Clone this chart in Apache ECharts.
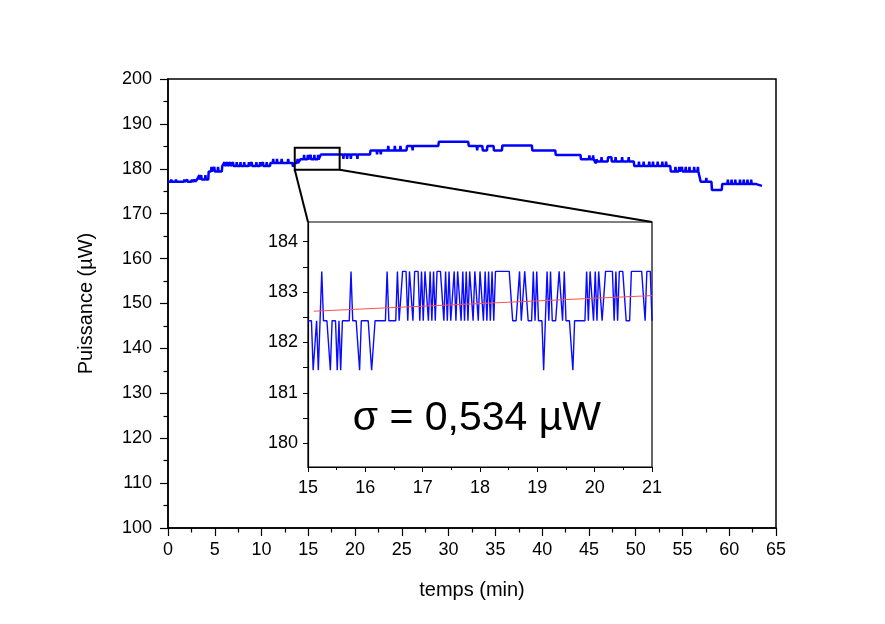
<!DOCTYPE html>
<html><head><meta charset="utf-8">
<script src="https://cdn.jsdelivr.net/npm/echarts@6/dist/echarts.min.js"></script>
<style>html,body{margin:0;padding:0;background:#fff}#c{width:885px;height:624px}</style>
</head><body><div id="c"></div>
<script>
// ---- main series: [time (min), power (µW)] vertices ----
const mainReadings = [[0,177.1],[0.3,177.1],[0.35,177.6],[0.4,177.1],[0.8,177.1],[0.85,177.6],[0.9,177.1],[1.7,177.1],[1.75,177.6],[1.8,177.1],[2.0,177.1],[2.05,177.6],[2.1,177.1],[2.5,177.1],[2.55,177.6],[2.6,177.1],[2.8,177.1],[2.85,177.6],[2.9,177.1],[3.05,177.1],[3.1,177.6],[3.3,177.6],[3.35,178.6],[3.4,177.6],[3.5,177.6],[3.55,178.6],[3.6,177.6],[3.95,177.6],[4.0,178.6],[4.05,177.6],[4.3,177.6],[4.35,179.4],[4.6,179.4],[4.65,180.4],[4.7,179.4],[4.9,179.4],[4.95,180.4],[5.0,179.4],[5.3,179.4],[5.35,180.4],[5.4,179.4],[5.75,179.4],[5.8,180.6],[6.0,180.6],[6.05,181.5],[6.1,180.6],[6.3,180.6],[6.35,181.5],[6.4,180.6],[6.6,180.6],[6.65,181.5],[6.7,180.6],[6.9,180.6],[6.95,181.5],[7.0,180.6],[7.3,180.6],[7.35,181.5],[7.4,180.6],[7.7,180.6],[7.75,181.5],[7.8,180.6],[8.1,180.6],[8.15,181.5],[8.2,180.6],[8.6,180.6],[8.65,181.5],[8.7,180.6],[8.9,180.6],[8.95,181.5],[9.0,180.6],[9.4,180.6],[9.45,181.5],[9.5,180.6],[9.8,180.6],[9.85,181.5],[9.9,180.6],[10.1,180.6],[10.15,181.5],[10.2,180.6],[10.5,180.6],[10.55,181.5],[10.6,180.6],[10.9,180.6],[10.95,181.3],[11.2,181.3],[11.25,182.2],[11.3,181.3],[11.6,181.3],[11.65,182.2],[11.7,181.3],[12.1,181.3],[12.15,182.2],[12.2,181.3],[12.8,181.3],[12.85,182.2],[12.9,181.3],[13.3,181.3],[13.35,180.5],[13.5,180.5],[13.55,181.3],[13.8,181.3],[13.85,182.2],[13.9,181.3],[14.1,181.3],[14.15,182.1],[14.5,182.1],[14.55,183.1],[14.6,182.1],[14.9,182.1],[14.95,183.1],[15.0,182.1],[15.2,182.1],[15.25,183.1],[15.3,182.1],[15.6,182.1],[15.65,183.1],[15.7,182.1],[16.0,182.1],[16.05,183.1],[16.1,182.1],[16.3,182.1],[16.35,183.2],[18.7,183.2],[18.75,182.2],[18.8,183.2],[19.1,183.2],[19.15,182.2],[19.2,183.2],[19.5,183.2],[19.55,182.2],[19.6,183.2],[20.2,183.2],[20.25,182.2],[20.3,183.2],[21.6,183.2],[21.65,184.1],[22.3,184.1],[22.35,183.2],[22.4,184.1],[22.7,184.1],[22.75,183.2],[22.8,184.1],[23.5,184.1],[23.55,185.1],[23.6,184.1],[24.2,184.1],[24.25,185.1],[24.3,184.1],[24.8,184.1],[24.85,185.1],[24.9,184.1],[25.5,184.1],[25.55,185.1],[26.1,185.1],[26.15,184.1],[26.2,185.1],[28.9,185.1],[28.95,186.0],[32.1,186.0],[32.15,185.1],[33.0,185.1],[33.05,184.1],[33.1,185.1],[33.6,185.1],[33.65,184.1],[34.1,184.1],[34.15,185.1],[34.8,185.1],[34.85,184.1],[35.7,184.1],[35.75,185.2],[38.9,185.2],[38.95,184.1],[41.4,184.1],[41.45,183.1],[44.1,183.1],[44.15,182.1],[45.0,182.1],[45.05,183.0],[45.1,182.1],[45.4,182.1],[45.45,183.0],[45.5,182.1],[45.7,182.1],[45.75,181.2],[45.8,182.1],[45.9,182.1],[45.95,181.6],[46.3,181.6],[46.35,182.6],[46.4,181.6],[47.0,181.6],[47.05,182.6],[47.4,182.6],[47.45,181.6],[47.8,181.6],[47.85,182.6],[47.9,181.6],[48.5,181.6],[48.55,182.6],[48.6,181.6],[49.2,181.6],[49.25,182.6],[49.3,181.6],[49.8,181.6],[49.85,180.6],[50.3,180.6],[50.35,181.6],[50.4,180.6],[50.8,180.6],[50.85,181.6],[50.9,180.6],[51.4,180.6],[51.45,181.6],[51.5,180.6],[51.8,180.6],[51.85,181.6],[51.9,180.6],[52.3,180.6],[52.35,181.6],[52.4,180.6],[52.8,180.6],[52.85,181.6],[52.9,180.6],[53.2,180.6],[53.25,181.6],[53.3,180.6],[53.7,180.6],[53.75,179.4],[54.2,179.4],[54.25,180.4],[54.3,179.4],[54.6,179.4],[54.65,180.4],[54.7,179.4],[54.9,179.4],[54.95,180.4],[55.0,179.4],[55.3,179.4],[55.35,180.4],[55.4,179.4],[55.7,179.4],[55.75,180.4],[55.8,179.4],[56.2,179.4],[56.25,180.4],[56.3,179.4],[56.6,179.4],[56.65,180.4],[56.7,179.4],[56.9,179.4],[56.95,177.1],[57.5,177.1],[57.55,178.0],[57.6,177.1],[58.1,177.1],[58.15,175.3],[59.2,175.3],[59.25,176.6],[59.8,176.6],[59.85,177.6],[59.9,176.6],[60.2,176.6],[60.25,177.6],[60.3,176.6],[60.6,176.6],[60.65,177.6],[60.7,176.6],[61.1,176.6],[61.15,177.6],[61.2,176.6],[61.5,176.6],[61.55,177.6],[61.6,176.6],[61.9,176.6],[61.95,177.6],[62.0,176.6],[62.3,176.6],[62.35,177.6],[62.4,176.6],[62.9,176.6],[62.95,176.2],[63.5,176.2]];

// ---- inset series: samples from 15 to 21 min ----
const insetStart = 15;
const insetStep = 0.03;
const insetPower = [
182.43,182.43,182.43,181.45,181.45,182.43,181.45,182.43,183.41,182.43,
182.43,182.43,182.43,181.45,182.43,182.43,182.43,181.45,182.43,181.45,
182.43,182.43,182.43,182.43,182.43,183.41,182.43,182.43,182.43,182.43,
181.45,182.43,182.43,182.43,182.43,182.43,182.43,181.45,181.45,182.43,
182.43,182.43,182.43,182.43,182.43,182.43,183.41,182.43,182.43,182.43,
182.43,182.43,183.41,182.43,182.43,183.41,183.41,183.41,182.43,183.41,
183.41,182.43,183.41,183.41,183.41,182.43,183.41,182.43,183.41,183.41,
182.43,183.41,182.43,183.41,182.43,183.41,183.41,183.41,183.41,182.43,
183.41,182.43,183.41,182.43,182.43,183.41,182.43,183.41,183.41,182.43,
183.41,182.43,183.41,182.43,183.41,183.41,182.43,183.41,183.41,182.43,
183.41,183.41,182.43,183.41,182.43,183.41,182.43,183.41,182.43,183.41,
183.41,183.41,183.41,183.41,183.41,183.41,183.41,183.41,183.41,182.43,
182.43,182.43,182.43,183.41,182.43,182.43,183.41,183.41,182.43,182.43,
182.43,183.41,182.43,183.41,182.43,182.43,182.43,181.45,182.43,183.41,
182.43,183.41,182.43,182.43,182.43,182.43,183.41,183.41,182.43,183.41,
182.43,182.43,182.43,182.43,181.45,182.43,182.43,182.43,182.43,182.43,
182.43,182.43,183.41,182.43,183.41,183.41,182.43,183.41,182.43,183.41,
183.41,182.43,182.43,183.41,183.41,183.41,183.41,183.41,182.43,183.41,
182.43,183.41,183.41,183.41,183.41,182.43,182.43,182.43,183.41,183.41,
183.41,183.41,183.41,183.41,183.41,183.41,182.43,183.41,183.41,183.41,
182.43];

// linear fit in the inset
const fitTime = [15.1, 21];
const fitPower = [182.62, 182.93];

// zoom box drawn on the main plot
const zoomBoxTime = [13.55, 18.35];
const zoomBoxPower = [179.8, 184.7];

// inset axis
const insetYMin = 179.53, insetYMax = 184.39;
const insetYTicks = [180,180.5,181,181.5,182,182.5,183,183.5,184];
const insetYLabels = [180,181,182,183,184];

// sigma annotation anchor (inset data coords)
const sigmaText = 'σ = 0,534 µW';
const sigmaAnchor = [15.78, 180.48];

const FONT = '"Liberation Sans", Arial, sans-serif';
const chart = echarts.init(document.getElementById('c'), null, {renderer: 'canvas'});

const insetData = insetPower.map((v, i) => [insetStart + insetStep * i, v]);
const fitData = fitTime.map((t, i) => [t, fitPower[i]]);

const axisCommon = {
  axisLine: {show: true, onZero: false, lineStyle: {color: '#000', width: 1.5}},
  splitLine: {show: false},
  axisLabel: {color: '#000', fontFamily: FONT, fontSize: 18},
  nameTextStyle: {color: '#000', fontFamily: FONT, fontSize: 20}
};

chart.setOption({
  animation: false,
  backgroundColor: '#fff',
  grid: [
    {left: 168, top: 79, width: 608, height: 449, show: true, borderColor: '#000', borderWidth: 1.5, backgroundColor: 'rgba(0,0,0,0)', containLabel: false},
    {left: 308, top: 222, width: 344, height: 245, show: true, borderColor: '#000', borderWidth: 1.2, backgroundColor: '#fff', containLabel: false}
  ],
  xAxis: [
    Object.assign({}, axisCommon, {
      type: 'value', gridIndex: 0, min: 0, max: 65, interval: 5,
      axisTick: {show: true, inside: false, length: 8, lineStyle: {color: '#000', width: 1.2}},
      minorTick: {show: true, splitNumber: 2, length: 4.5, lineStyle: {color: '#000', width: 1.2}},
      axisLabel: Object.assign({}, axisCommon.axisLabel, {margin: 13}),
      name: 'temps (min)', nameLocation: 'middle', nameGap: 52
    }),
    Object.assign({}, axisCommon, {
      type: 'value', gridIndex: 1, min: 15, max: 21, interval: 1,
      axisLine: {show: true, onZero: false, lineStyle: {color: '#000', width: 1.2}},
      axisTick: {show: true, inside: false, length: 5, lineStyle: {color: '#000', width: 1}},
      minorTick: {show: true, splitNumber: 2, length: 3, lineStyle: {color: '#000', width: 1}},
      axisLabel: Object.assign({}, axisCommon.axisLabel, {margin: 12})
    })
  ],
  yAxis: [
    Object.assign({}, axisCommon, {
      type: 'value', gridIndex: 0, min: 100, max: 200, interval: 10,
      axisTick: {show: true, inside: false, length: 8, lineStyle: {color: '#000', width: 1.2}},
      minorTick: {show: true, splitNumber: 2, length: 4.5, lineStyle: {color: '#000', width: 1.2}},
      axisLabel: Object.assign({}, axisCommon.axisLabel, {margin: 16}),
      name: 'Puissance (µW)', nameLocation: 'middle', nameGap: 72
    }),
    Object.assign({}, axisCommon, {
      type: 'value', gridIndex: 1, min: insetYMin, max: insetYMax,
      axisLine: {show: true, onZero: false, lineStyle: {color: '#000', width: 1.2}},
      axisTick: {show: true, inside: false, length: 5, customValues: insetYTicks, lineStyle: {color: '#000', width: 1}},
      axisLabel: Object.assign({}, axisCommon.axisLabel, {margin: 10, customValues: insetYLabels})
    })
  ],
  series: [
    {type: 'line', xAxisIndex: 0, yAxisIndex: 0, data: mainReadings, showSymbol: false, symbol: 'none',
     lineStyle: {color: '#0000ff', width: 2.5}, z: 3},
    {type: 'line', xAxisIndex: 1, yAxisIndex: 1, data: insetData, showSymbol: false, symbol: 'none',
     lineStyle: {color: '#0a0aff', width: 1.4}, z: 3},
    {type: 'line', xAxisIndex: 1, yAxisIndex: 1, data: fitData, showSymbol: false, symbol: 'none',
     lineStyle: {color: '#ff5050', width: 1}, z: 4}
  ]
});

const a = chart.convertToPixel({gridIndex: 0}, [zoomBoxTime[0], zoomBoxPower[1]]);
const b = chart.convertToPixel({gridIndex: 0}, [zoomBoxTime[1], zoomBoxPower[0]]);
const c1 = chart.convertToPixel({gridIndex: 1}, [15, insetYMax]);
const c2 = chart.convertToPixel({gridIndex: 1}, [21, insetYMax]);
const sigPos = chart.convertToPixel({gridIndex: 1}, sigmaAnchor);

chart.setOption({
  graphic: [
    {type: 'rect', shape: {x: a[0], y: a[1], width: b[0] - a[0], height: b[1] - a[1]},
     style: {fill: 'none', stroke: '#000', lineWidth: 2}, z: 10},
    {type: 'line', shape: {x1: a[0], y1: b[1], x2: c1[0], y2: c1[1]}, style: {stroke: '#000', lineWidth: 2}, z: 10},
    {type: 'line', shape: {x1: b[0], y1: b[1], x2: c2[0], y2: c2[1]}, style: {stroke: '#000', lineWidth: 2}, z: 10},
    {type: 'text', x: sigPos[0], y: sigPos[1], z: 10,
     style: {text: sigmaText, fill: '#000', font: '41px "Liberation Sans", Arial, sans-serif', align: 'left', verticalAlign: 'middle'}}
  ]
});
</script>
</body></html>
